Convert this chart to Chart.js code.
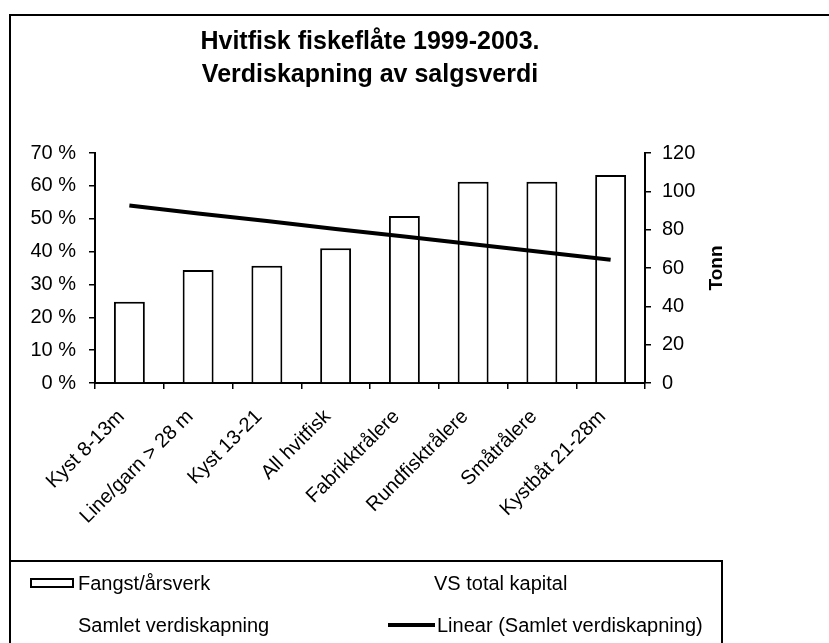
<!DOCTYPE html>
<html><head><meta charset="utf-8">
<script src="https://cdn.jsdelivr.net/npm/chart.js@4"></script>
<style>
html,body{margin:0;padding:0;background:#fff;}
#wrap{position:relative;width:829px;height:643px;overflow:hidden;background:#fff;font-family:"Liberation Sans",Arial,sans-serif;color:#000;}
canvas{position:absolute;left:0;top:0;}
.ln{position:absolute;background:#000;}
.lg{position:absolute;font-size:20px;line-height:20px;white-space:nowrap;}
</style></head><body>
<div id="wrap">
<canvas id="c" width="829" height="643"></canvas>
<div class="ln" style="left:10px;top:14px;width:819px;height:2px"></div>
<div class="ln" style="left:9px;top:14px;width:2px;height:629px"></div>
<div class="ln" style="left:9px;top:560px;width:714px;height:2px"></div>
<div class="ln" style="left:721px;top:560px;width:2px;height:83px"></div>
<div style="position:absolute;left:30px;top:578px;width:40px;height:6px;border:2px solid #000;background:#fff"></div>
<div class="lg" id="lg1" style="left:78px;top:573px"></div>
<div class="lg" id="lg2" style="left:434px;top:573px"></div>
<div class="lg" id="lg3" style="left:78px;top:615px"></div>
<div style="position:absolute;left:388px;top:623px;width:47px;height:4px;background:#000"></div>
<div class="lg" id="lg4" style="left:437px;top:615px"></div>
</div>
<script>
const titleLines = ["Hvitfisk fiskeflåte 1999-2003.", "Verdiskapning av salgsverdi"];
const categories = ["Kyst 8-13m", "Line/garn > 28 m", "Kyst 13-21", "All hvitfisk", "Fabrikktrålere", "Rundfisktrålere", "Småtrålere", "Kystbåt 21-28m"];
// Fangst/årsverk (Tonn, right axis)
const fangstPerArsverk = [42.4, 59.0, 61.2, 70.3, 87.1, 105.0, 105.0, 108.5];
// Linear (Samlet verdiskapning) (%, left axis)
const linearSamlet = [54.0, 51.6, 49.3, 46.9, 44.6, 42.2, 39.9, 37.5];
const leftTicks = [0, 10, 20, 30, 40, 50, 60, 70];
const rightTicks = [0, 20, 40, 60, 80, 100, 120];
const legendLabels = ["Fangst/årsverk", "VS total kapital", "Samlet verdiskapning", "Linear (Samlet verdiskapning)"];
const rightAxisTitle = "Tonn";

document.getElementById('lg1').textContent = legendLabels[0];
document.getElementById('lg2').textContent = legendLabels[1];
document.getElementById('lg3').textContent = legendLabels[2];
document.getElementById('lg4').textContent = legendLabels[3];

const FONT = '"Liberation Sans", Arial, sans-serif';

const textPlugin = {
  id: 'texts',
  afterDraw(chart) {
    const ctx = chart.ctx, ca = chart.chartArea;
    ctx.save();
    ctx.fillStyle = '#000';
    ctx.textAlign = 'center';
    ctx.textBaseline = 'middle';
    ctx.font = 'bold 25px ' + FONT;
    const cx = (ca.left + ca.right) / 2;
    ctx.fillText(titleLines[0], cx, 42);
    ctx.fillText(titleLines[1], cx, 75);
    ctx.font = 'bold 19px ' + FONT;
    ctx.translate(717, (ca.top + ca.bottom) / 2);
    ctx.rotate(-Math.PI / 2);
    ctx.fillText(rightAxisTitle, 0, 0);
    ctx.restore();
  }
};

new Chart(document.getElementById('c'), {
  data: {
    labels: categories,
    datasets: [
      {
        type: 'line', label: legendLabels[3], data: linearSamlet, yAxisID: 'y',
        borderColor: '#000', borderWidth: 4, pointRadius: 0, fill: false, tension: 0, order: 0
      },
      {
        type: 'bar', label: legendLabels[0], data: fangstPerArsverk, yAxisID: 'y2',
        backgroundColor: '#fff', borderColor: '#000', borderWidth: 2,
        barPercentage: 0.45, categoryPercentage: 1.0, order: 1
      }
    ]
  },
  options: {
    responsive: false, animation: false,
    layout: { padding: { top: 153, left: 0, right: 0, bottom: 0 } },
    plugins: { legend: { display: false }, tooltip: { enabled: false }, title: { display: false } },
    scales: {
      x: {
        type: 'category',
        afterFit(s) { s.height = 260; },
        grid: { display: true, drawOnChartArea: false, drawTicks: true, tickLength: 6, color: '#000', lineWidth: 1.5, offset: true },
        border: { display: true, color: '#000', width: 2 },
        ticks: { color: '#000', font: { family: FONT, size: 20 }, minRotation: 45, maxRotation: 45, autoSkip: false, padding: 16, labelOffset: -8 }
      },
      y: {
        position: 'left', min: 0, max: 70,
        afterFit(s) { s.width = 95; },
        afterBuildTicks(s) { s.ticks = leftTicks.map(v => ({ value: v })); },
        grid: { display: true, drawOnChartArea: false, drawTicks: true, tickLength: 6, color: '#000', lineWidth: 1.5 },
        border: { display: true, color: '#000', width: 2 },
        ticks: { color: '#000', font: { family: FONT, size: 20 }, padding: 13, callback: v => v + ' %' }
      },
      y2: {
        position: 'right', min: 0, max: 120,
        afterFit(s) { s.width = 184; },
        afterBuildTicks(s) { s.ticks = rightTicks.map(v => ({ value: v })); },
        grid: { display: true, drawOnChartArea: false, drawTicks: true, tickLength: 6, color: '#000', lineWidth: 1.5 },
        border: { display: true, color: '#000', width: 2 },
        ticks: { color: '#000', font: { family: FONT, size: 20 }, padding: 11 }
      }
    }
  },
  plugins: [textPlugin]
});
</script>
</body></html>
